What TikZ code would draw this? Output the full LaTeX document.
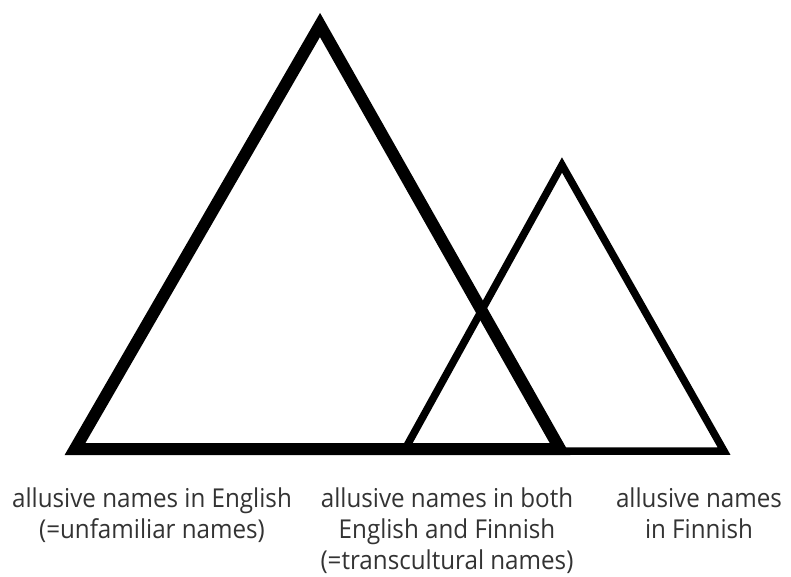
\documentclass[tikz,border=0pt]{standalone}
\usepackage{fontspec}
\setmainfont{Open Sans}[FakeStretch=0.93]
\usetikzlibrary{positioning}
\tikzset{
    label text/.style={align=center, font=\fontsize{26}{31}\selectfont, inner sep=0pt, text=black!80}
}
\begin{document}
\begin{tikzpicture}[x=1pt, y=-1pt]
    % 画布
    \useasboundingbox (0,0) rectangle (791,576);
    
    % 大三角形 (English)
    \coordinate (Ea) at (320,25);
    \coordinate (El) at (75,449);
    \coordinate (Er) at (560,449);
    \draw[line width=12pt, miter limit=10] (El) -- (Ea) -- (Er) -- cycle;
    
    % 小三角形 (Finnish)
    \coordinate (Fa) at (562,165);
    \coordinate (Fl) at (404,451);
    \coordinate (Fr) at (724,451);
    \draw[line width=7.5pt, miter limit=10] (Fl) -- (Fa) -- (Fr) -- cycle;
    
    % 标签
    \node[label text, anchor=north] (english) at (152,488) {allusive names in English\\(=unfamiliar names)};
    \node[label text, anchor=north] (both) at (447,488) {allusive names in both\\English and Finnish\\(=transcultural names)};
    \node[label text, anchor=north] (finnish) at (699,488) {allusive names\\in Finnish};
\end{tikzpicture}
\end{document}
